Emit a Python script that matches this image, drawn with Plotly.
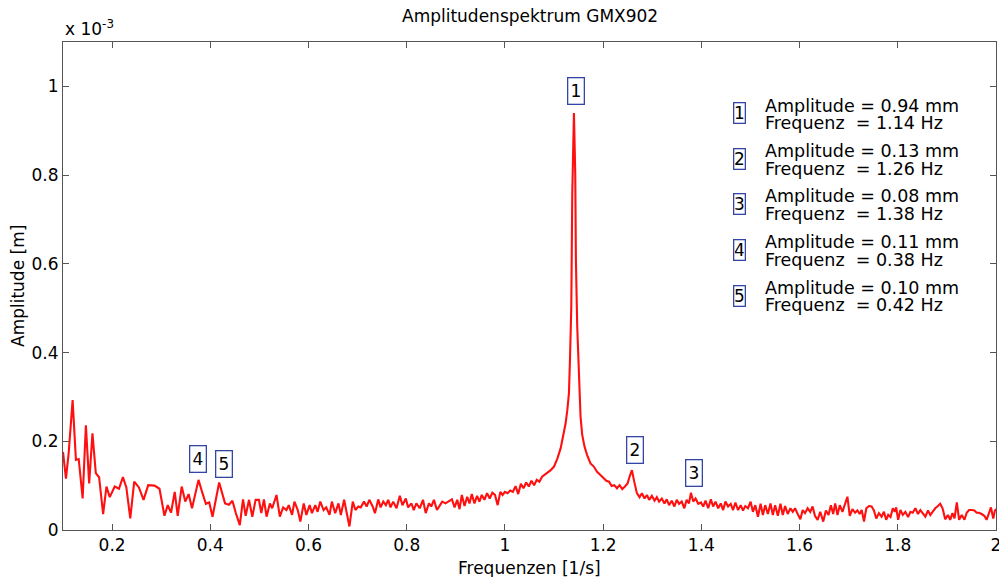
import plotly.graph_objects as go

# ---- data (amplitude in mm = 1e-3 m, frequency in Hz) ----
freq_hz = [
    0.1000, 0.1060, 0.1115, 0.1196, 0.1263, 0.1320, 0.1400, 0.1466, 0.1533, 0.1600,
    0.1668, 0.1735, 0.1817, 0.1885, 0.1952, 0.2053, 0.2140, 0.2220, 0.2290, 0.2370,
    0.2450, 0.2546, 0.2640, 0.2735, 0.2863, 0.2965, 0.3066, 0.3133, 0.3200, 0.3275,
    0.3336, 0.3417, 0.3490, 0.3558, 0.3627, 0.3760, 0.3840, 0.3910, 0.3978, 0.4045,
    0.4180, 0.4300, 0.4380, 0.4450, 0.4518, 0.4600, 0.4666, 0.4720, 0.4788, 0.4855,
    0.4923, 0.4990, 0.5038, 0.5092, 0.5146, 0.5213, 0.5260, 0.5348, 0.5416, 0.5483,
    0.5551, 0.5598, 0.5665, 0.5713, 0.5780, 0.5834, 0.5902, 0.5956, 0.6023, 0.6070,
    0.6138, 0.6185, 0.6239, 0.6307, 0.6361, 0.6428, 0.6475, 0.6543, 0.6610, 0.6658,
    0.6725, 0.6779, 0.6833, 0.6901, 0.6955, 0.7015, 0.7063, 0.7130, 0.7184, 0.7238,
    0.7306, 0.7353, 0.7420, 0.7468, 0.7522, 0.7576, 0.7623, 0.7670, 0.7724, 0.7792,
    0.7859, 0.7913, 0.7981, 0.8028, 0.8095, 0.8143, 0.8197, 0.8264, 0.8332, 0.8386,
    0.8453, 0.8500, 0.8554, 0.8615, 0.8669, 0.8723, 0.8790, 0.8858, 0.8920, 0.8974,
    0.9028, 0.9075, 0.9122, 0.9177, 0.9231, 0.9278, 0.9325, 0.9379, 0.9433, 0.9480,
    0.9528, 0.9582, 0.9636, 0.9690, 0.9743, 0.9797, 0.9852, 0.9906, 0.9953, 1.0000,
    1.0054, 1.0108, 1.0162, 1.0216, 1.0270, 1.0324, 1.0378, 1.0432, 1.0486, 1.0540,
    1.0594, 1.0648, 1.0702, 1.0756, 1.0810, 1.0864, 1.0932, 1.0999, 1.1067, 1.1134,
    1.1188, 1.1235, 1.1270, 1.1303, 1.1324, 1.1351, 1.1371, 1.1405, 1.1432, 1.1445,
    1.1472, 1.1506, 1.1540, 1.1573, 1.1620, 1.1674, 1.1742, 1.1809, 1.1876, 1.1944,
    1.2011, 1.2065, 1.2119, 1.2173, 1.2227, 1.2281, 1.2335, 1.2389, 1.2443, 1.2497,
    1.2538, 1.2585, 1.2633, 1.2687, 1.2741, 1.2789, 1.2843, 1.2890, 1.2938, 1.2992,
    1.3046, 1.3093, 1.3140, 1.3194, 1.3248, 1.3295, 1.3342, 1.3397, 1.3451, 1.3498,
    1.3545, 1.3599, 1.3653, 1.3700, 1.3748, 1.3788, 1.3835, 1.3882, 1.3937, 1.3991,
    1.4038, 1.4085, 1.4139, 1.4193, 1.4240, 1.4288, 1.4342, 1.4396, 1.4443, 1.4490,
    1.4544, 1.4598, 1.4645, 1.4693, 1.4747, 1.4801, 1.4848, 1.4895, 1.4949, 1.5003,
    1.5050, 1.5098, 1.5152, 1.5206, 1.5253, 1.5300, 1.5354, 1.5408, 1.5455, 1.5503,
    1.5557, 1.5611, 1.5658, 1.5705, 1.5759, 1.5813, 1.5860, 1.5908, 1.5962, 1.6016,
    1.6063, 1.6110, 1.6164, 1.6218, 1.6265, 1.6313, 1.6367, 1.6421, 1.6482, 1.6536,
    1.6590, 1.6637, 1.6684, 1.6725, 1.6772, 1.6819, 1.6873, 1.6927, 1.6974, 1.7022,
    1.7076, 1.7130, 1.7177, 1.7224, 1.7265, 1.7312, 1.7359, 1.7413, 1.7467, 1.7514,
    1.7562, 1.7616, 1.7670, 1.7717, 1.7764, 1.7805, 1.7852, 1.7899, 1.7940, 1.7967,
    1.8007, 1.8054, 1.8102, 1.8156, 1.8210, 1.8257, 1.8304, 1.8358, 1.8412, 1.8459,
    1.8507, 1.8561, 1.8615, 1.8662, 1.8709, 1.8763, 1.8817, 1.8864, 1.8912, 1.8966,
    1.9020, 1.9067, 1.9114, 1.9155, 1.9202, 1.9249, 1.9303, 1.9357, 1.9404, 1.9452,
    1.9506, 1.9560, 1.9607, 1.9654, 1.9708, 1.9762, 1.9809, 1.9857, 1.9897, 1.9944,
    1.9978, 2.0012,
]

amp_mm = [
    0.176, 0.116, 0.173, 0.293, 0.158, 0.160, 0.071, 0.236, 0.105, 0.218,
    0.128, 0.119, 0.036, 0.098, 0.074, 0.098, 0.093, 0.119, 0.096, 0.026,
    0.109, 0.096, 0.068, 0.101, 0.100, 0.093, 0.032, 0.056, 0.039, 0.086,
    0.032, 0.098, 0.064, 0.081, 0.049, 0.113, 0.083, 0.059, 0.062, 0.030,
    0.107, 0.060, 0.057, 0.066, 0.039, 0.011, 0.069, 0.032, 0.068, 0.030,
    0.068, 0.068, 0.038, 0.069, 0.030, 0.060, 0.049, 0.079, 0.030, 0.051,
    0.045, 0.056, 0.034, 0.064, 0.045, 0.019, 0.060, 0.034, 0.056, 0.038,
    0.056, 0.041, 0.064, 0.045, 0.051, 0.034, 0.064, 0.038, 0.060, 0.034,
    0.068, 0.038, 0.008, 0.064, 0.045, 0.053, 0.051, 0.064, 0.053, 0.068,
    0.053, 0.038, 0.069, 0.051, 0.064, 0.056, 0.068, 0.051, 0.064, 0.049,
    0.077, 0.056, 0.071, 0.051, 0.060, 0.045, 0.060, 0.049, 0.068, 0.038,
    0.060, 0.053, 0.068, 0.045, 0.054, 0.064, 0.060, 0.064, 0.069, 0.051,
    0.068, 0.047, 0.079, 0.054, 0.075, 0.060, 0.081, 0.060, 0.077, 0.064,
    0.079, 0.068, 0.083, 0.071, 0.084, 0.079, 0.056, 0.086, 0.079, 0.086,
    0.083, 0.089, 0.086, 0.099, 0.081, 0.104, 0.094, 0.107, 0.098, 0.111,
    0.101, 0.113, 0.109, 0.120, 0.124, 0.129, 0.135, 0.143, 0.161, 0.184,
    0.210, 0.240, 0.270, 0.308, 0.383, 0.503, 0.758, 0.940, 0.800, 0.608,
    0.458, 0.335, 0.255, 0.215, 0.188, 0.169, 0.150, 0.143, 0.131, 0.124,
    0.116, 0.111, 0.109, 0.099, 0.101, 0.094, 0.101, 0.092, 0.098, 0.105,
    0.120, 0.135, 0.109, 0.083, 0.074, 0.083, 0.071, 0.079, 0.068, 0.077,
    0.066, 0.074, 0.064, 0.071, 0.060, 0.069, 0.056, 0.066, 0.053, 0.068,
    0.059, 0.064, 0.049, 0.068, 0.060, 0.084, 0.064, 0.071, 0.059, 0.062,
    0.053, 0.066, 0.049, 0.069, 0.053, 0.064, 0.049, 0.060, 0.045, 0.064,
    0.053, 0.059, 0.045, 0.062, 0.045, 0.056, 0.044, 0.054, 0.049, 0.064,
    0.041, 0.056, 0.030, 0.059, 0.034, 0.056, 0.036, 0.060, 0.034, 0.056,
    0.032, 0.059, 0.034, 0.054, 0.036, 0.049, 0.041, 0.049, 0.036, 0.024,
    0.045, 0.038, 0.049, 0.041, 0.053, 0.032, 0.023, 0.041, 0.019, 0.044,
    0.034, 0.056, 0.036, 0.060, 0.034, 0.056, 0.041, 0.060, 0.075, 0.032,
    0.047, 0.039, 0.044, 0.036, 0.045, 0.019, 0.049, 0.054, 0.053, 0.044,
    0.026, 0.038, 0.030, 0.041, 0.023, 0.034, 0.029, 0.049, 0.041, 0.051,
    0.023, 0.045, 0.034, 0.041, 0.029, 0.041, 0.039, 0.049, 0.036, 0.045,
    0.039, 0.030, 0.044, 0.034, 0.041, 0.049, 0.054, 0.059, 0.049, 0.024,
    0.034, 0.023, 0.038, 0.026, 0.062, 0.023, 0.034, 0.023, 0.039, 0.045,
    0.045, 0.044, 0.039, 0.039, 0.036, 0.032, 0.023, 0.041, 0.051, 0.026,
    0.044, 0.047,
]

peak_ids = ["1", "2", "3", "4", "5"]
peak_amp_mm = [0.94, 0.13, 0.08, 0.11, 0.10]
peak_freq_hz = [1.14, 1.26, 1.38, 0.38, 0.42]

x_ticks = [0.2, 0.4, 0.6, 0.8, 1.0, 1.2, 1.4, 1.6, 1.8, 2.0]
x_ticktext = ["0.2", "0.4", "0.6", "0.8", "1", "1.2", "1.4", "1.6", "1.8", "2"]
y_ticks = [0, 0.2, 0.4, 0.6, 0.8, 1.0]
y_ticktext = ["0", "0.2", "0.4", "0.6", "0.8", "1"]

title_text = "Amplitudenspektrum GMX902"
x_title = "Frequenzen [1/s]"
y_title = "Amplitude [m]"

# ---- styling ----
FONT = "DejaVu Sans"
BOX_BLUE = "#3445a6"
AXIS_COL = "#555555"

fig = go.Figure()
fig.add_trace(go.Scatter(
    x=freq_hz, y=amp_mm, mode="lines",
    line=dict(color="#ff1010", width=2.1),
    hoverinfo="skip", showlegend=False,
))

annotations = []

# boxed numbers above the peaks
label_xshift = [2, 2, 2, -2, 4]
for pid, pf, pa, xs in zip(peak_ids, peak_freq_hz, peak_amp_mm, label_xshift):
    annotations.append(dict(
        x=pf, y=pa, xref="x", yref="y", text=pid, showarrow=False,
        xanchor="center", yanchor="bottom", yshift=8, xshift=xs,
        font=dict(family=FONT, size=17, color="black"),
        bordercolor=BOX_BLUE, borderwidth=1.3, borderpad=1,
        width=13, height=23, align="center", valign="middle",
    ))

# legend-like text block at the upper right (reference pixel positions)
plot_h = 488.0
plot_w = 938.0
left_px = 63.0

def ypaper(py):
    return (530.0 - py) / plot_h

def xpaper(px):
    return (px - left_px) / plot_w

for i, (pid, pa, pf) in enumerate(zip(peak_ids, peak_amp_mm, peak_freq_hz)):
    base = 113.5 + 45.5 * i
    annotations.append(dict(
        x=xpaper(743), y=ypaper(base), xref="paper", yref="paper",
        text=pid, showarrow=False, xanchor="center", yanchor="middle",
        font=dict(family=FONT, size=17, color="black"),
        bordercolor=BOX_BLUE, borderwidth=1.3, borderpad=0.5,
        width=9, height=18, align="center", valign="middle",
    ))
    annotations.append(dict(
        x=xpaper(767), y=ypaper(base - 8), xref="paper", yref="paper",
        text=f"Amplitude = {pa:.2f} mm", showarrow=False,
        xanchor="left", yanchor="middle",
        font=dict(family=FONT, size=17.5, color="black"),
    ))
    annotations.append(dict(
        x=xpaper(767), y=ypaper(base + 9.5), xref="paper", yref="paper",
        text=f"Frequenz \u00a0= {pf:.2f} Hz", showarrow=False,
        xanchor="left", yanchor="middle",
        font=dict(family=FONT, size=17.5, color="black"),
    ))

# exponent label
annotations.append(dict(
    x=0, y=1, xref="paper", yref="paper", text="x 10<sup>-3</sup>",
    showarrow=False, xanchor="left", yanchor="bottom", yshift=1,
    font=dict(family=FONT, size=17, color="black"),
))
# title
annotations.append(dict(
    x=0.5, y=1, xref="paper", yref="paper", text=title_text,
    showarrow=False, xanchor="center", yanchor="bottom", yshift=14,
    font=dict(family=FONT, size=17, color="black"),
))
# axis titles
annotations.append(dict(
    x=0.5, y=0, xref="paper", yref="paper", text=x_title,
    showarrow=False, xanchor="center", yanchor="top", yshift=-26,
    font=dict(family=FONT, size=17, color="black"),
))
annotations.append(dict(
    x=0, y=0.5, xref="paper", yref="paper", text=y_title, textangle=-90,
    showarrow=False, xanchor="center", yanchor="middle", xshift=-45,
    font=dict(family=FONT, size=17, color="black"),
))

axis_common = dict(
    showgrid=False, zeroline=False, showline=True, linecolor=AXIS_COL,
    linewidth=1, mirror="ticks", ticks="inside", ticklen=6,
    tickcolor=AXIS_COL, tickwidth=1,
    tickfont=dict(family=FONT, size=17, color="black"),
)

# the page body adds an 8 px margin, so the figure is 8 px smaller
fig.update_layout(
    width=999, height=569,
    margin=dict(l=55, r=6, t=34, b=47, pad=0),
    paper_bgcolor="white", plot_bgcolor="white",
    xaxis=dict(range=[0.1, 2.0], tickvals=x_ticks, ticktext=x_ticktext, **axis_common),
    yaxis=dict(range=[0, 1.1], tickvals=y_ticks, ticktext=y_ticktext, **axis_common),
    annotations=annotations,
    showlegend=False,
)

fig.write_html("out.html")
